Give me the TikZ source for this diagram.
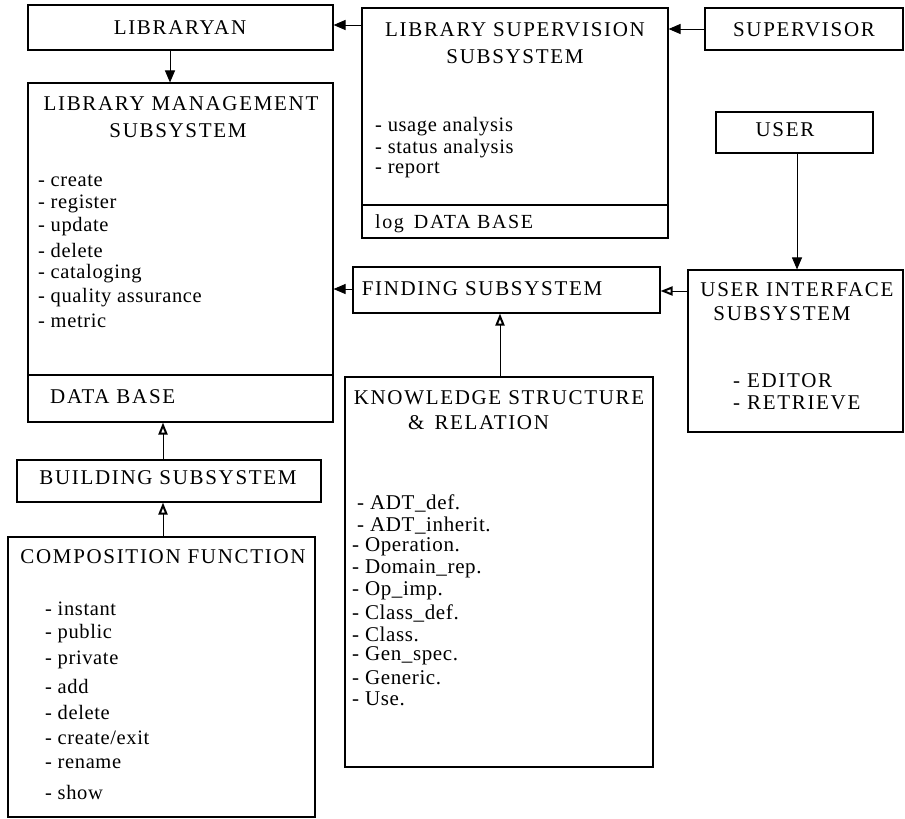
\documentclass[tikz,border=0pt]{standalone}
\usepackage{fontspec}
\setmainfont{Liberation Serif}
\newfontfamily\capf[LetterSpace=8]{Liberation Serif}
\newfontfamily\itemf[LetterSpace=3]{Liberation Serif}
\usetikzlibrary{arrows.meta}
\begin{document}
\begin{tikzpicture}[x=1pt,y=-1pt,
  box/.style={draw, line width=1.1pt, inner sep=0pt},
  ttl/.style={font=\capf\fontsize{21}{24}\selectfont, inner sep=0pt},
  itm/.style={font=\itemf\fontsize{20.5}{23}\selectfont, anchor=west, inner sep=0pt},
  kitm/.style={font=\itemf\fontsize{21}{23}\selectfont, anchor=west, inner sep=0pt},
  fa/.style={-{Triangle[length=12pt,width=10pt]}, line width=1pt},
  oa/.style={-{Triangle[open,length=12pt,width=9pt,line width=2pt]}, line width=1pt}]
\useasboundingbox (0,0) rectangle (905,819);
% boxes
\node[box, minimum width=305pt, minimum height=45pt] (lib) at (180.5,27.5) {};
\node[box, minimum width=306pt, minimum height=230pt] (sup) at (515,123) {};
\node[box, minimum width=198pt, minimum height=42pt] (supv) at (804,29) {};
\node[box, minimum width=305pt, minimum height=339pt] (mgmt) at (180.5,252.5) {};
\node[box, minimum width=307pt, minimum height=46pt] (find) at (506.5,290) {};
\node[box, minimum width=157pt, minimum height=41pt] (user) at (794.5,132.5) {};
\node[box, minimum width=215pt, minimum height=162pt] (ui) at (795.5,351) {};
\node[box, minimum width=308pt, minimum height=390pt] (know) at (499,572) {};
\node[box, minimum width=304pt, minimum height=42pt] (build) at (169,481) {};
\node[box, minimum width=307pt, minimum height=280pt] (comp) at (161.5,677) {};
% separators
\draw[line width=1.1pt] (sup.west |- 0,205) -- (sup.east |- 0,205);
\draw[line width=1.1pt] (mgmt.west |- 0,375) -- (mgmt.east |- 0,375);
% texts
\node[ttl] (tlib) at (180,28) {LIBRARYAN};
\node[ttl] (tsup1) at (515,30) {LIBRARY SUPERVISION};
\node[ttl] (tsup2) at (515,57) {SUBSYSTEM};
\node[itm] (s1) at (375,127) {- usage analysis};
\node[itm] (s2) at (375,149) {- status analysis};
\node[itm] (s3) at (375,170) {- report};
\node[itm, font=\capf\fontsize{20}{23}\selectfont] (s4) at (375,224) {log\hspace{10pt}DATA BASE};
\node[ttl] (tsupv) at (804,30) {SUPERVISOR};
\node[ttl] (tm1) at (181,104) {LIBRARY MANAGEMENT};
\node[ttl] (tm2) at (178,131) {SUBSYSTEM};
\node[itm] (m1) at (38,181) {- create};
\node[itm] (m2) at (38,204) {- register};
\node[itm] (m3) at (38,227) {- update};
\node[itm] (m4) at (38,250) {- delete};
\node[itm] (m5) at (38,274) {- cataloging};
\node[itm] (m6) at (38,298) {- quality assurance};
\node[itm] (m7) at (38,321) {- metric};
\node[ttl, anchor=west] (mdb) at (50,397) {DATA BASE};
\node[ttl] (tfind) at (482,289) {FINDING SUBSYSTEM};
\node[ttl] (tuser) at (785,130) {USER};
\node[ttl] (tui1) at (797,290) {USER INTERFACE};
\node[ttl] (tui2) at (782,314) {SUBSYSTEM};
\node[ttl, anchor=west] (u1) at (733,381) {- EDITOR};
\node[ttl, anchor=west] (u2) at (733,403) {- RETRIEVE};
\node[ttl] (tk1) at (499,398) {KNOWLEDGE STRUCTURE};
\node[ttl, anchor=west] (tk2) at (408,423) {\&\hspace{10pt}RELATION};
\node[kitm] (k1) at (357,503) {- ADT\_def.};
\node[kitm] (k2) at (357,526) {- ADT\_inherit.};
\node[kitm] (k3) at (352,547) {- Operation.};
\node[kitm] (k4) at (352,569) {- Domain\_rep.};
\node[kitm] (k5) at (352,591) {- Op\_imp.};
\node[kitm] (k6) at (352,613) {- Class\_def.};
\node[kitm] (k7) at (352,634) {- Class.};
\node[kitm] (k8) at (352,656) {- Gen\_spec.};
\node[kitm] (k9) at (352,678) {- Generic.};
\node[kitm] (k10) at (352,699) {- Use.};
\node[ttl] (tbuild) at (168,478) {BUILDING SUBSYSTEM};
\node[ttl] (tcomp) at (163,557) {COMPOSITION FUNCTION};
\node[itm] (c1) at (45,609) {- instant};
\node[itm] (c2) at (45,634) {- public};
\node[itm] (c3) at (45,660) {- private};
\node[itm] (c4) at (45,686) {- add};
\node[itm] (c5) at (45,712) {- delete};
\node[itm] (c6) at (45,738) {- create/exit};
\node[itm] (c7) at (45,764) {- rename};
\node[itm] (c8) at (45,792) {- show};
% connectors
\draw[fa] (sup.west |- 0,25) -- (lib.east |- 0,25);
\draw[fa] (supv.west |- 0,29) -- (sup.east |- 0,29);
\draw[fa] (lib.south -| 170,0) -- (mgmt.north -| 170,0);
\draw[fa] (find.west |- 0,289) -- (mgmt.east |- 0,289);
\draw[oa] (ui.west |- 0,291) -- (find.east |- 0,291);
\draw[fa] (user.south -| 797,0) -- (ui.north -| 797,0);
\draw[oa] (know.north -| 500,0) -- (find.south -| 500,0);
\draw[oa] (build.north -| 163,0) -- (mgmt.south -| 163,0);
\draw[oa] (comp.north -| 163,0) -- (build.south -| 163,0);
\end{tikzpicture}
\end{document}
